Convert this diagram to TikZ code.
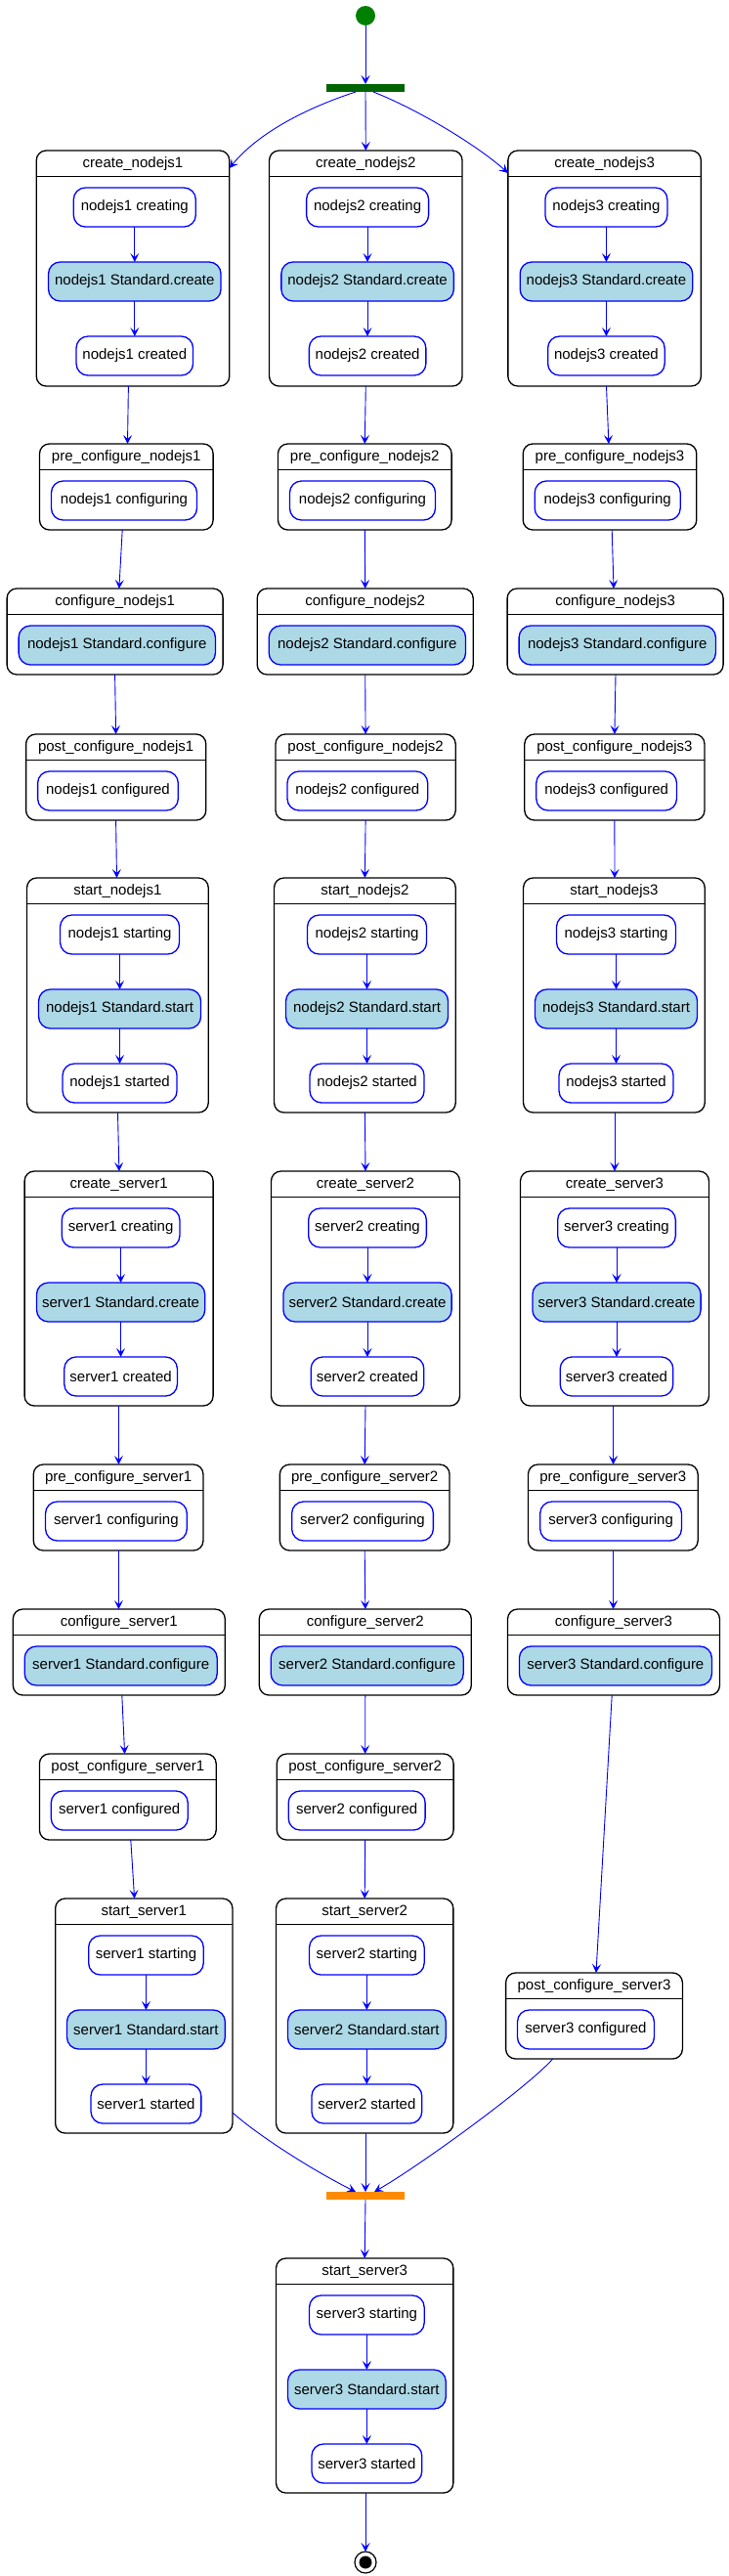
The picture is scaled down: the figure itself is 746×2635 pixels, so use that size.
\documentclass[tikz,border=0pt]{standalone}
\usepackage{fontspec}
\setmainfont{Liberation Sans}
\usetikzlibrary{arrows.meta}
\definecolor{ublue}{RGB}{0,0,255}
\definecolor{ulight}{RGB}{173,216,230}
\definecolor{ugreen}{RGB}{0,128,0}
\definecolor{udkgreen}{RGB}{0,100,0}
\definecolor{uorange}{RGB}{255,140,0}
\tikzset{
  clu/.style={draw=black, line width=1.3pt, rounded corners=10pt, fill=white, inner sep=0pt, outer sep=0pt},
  hdr/.style={draw=black, line width=1.3pt},
  ttl/.style={inner sep=0pt, font=\fontsize{15}{18}\selectfont, anchor=center},
  inn/.style={draw=ublue, line width=1.3pt, rounded corners=12pt, inner sep=0pt, outer sep=0pt,
    minimum height=40pt, font=\fontsize{15}{18}\selectfont, align=center},
  innw/.style={fill=white},
  innb/.style={fill=ulight},
  arr/.style={draw=ublue, line width=0.9pt, -{Stealth[length=9pt,width=9pt,inset=4pt]}},
  barnode/.style={inner sep=0pt, outer sep=0pt, minimum width=80pt, minimum height=8pt}
}
% #1 name, #2 cx, #3 top, #4 width, #5 height, #6 title
\newcommand{\Clu}[6]{%
  \node[clu, minimum width=#4pt, minimum height=#5pt] (#1) at (#2, #3+#5/2) {};
  \draw[hdr] ([yshift=-26.5pt]#1.north west) -- ([yshift=-26.5pt]#1.north east);
  \node[ttl] (#1t) at ([yshift=-13.5pt]#1.north) {#6};
}
% #1 name, #2 cx, #3 cy, #4 width, #5 style, #6 text
\newcommand{\Inn}[6]{\node[inn, #5, minimum width=#4pt] (#1) at (#2,#3) {#6};}
% #1 src, #2 dx, #3 tgt, #4 dx
\newcommand{\Arr}[4]{\draw[arr] ([xshift=#2pt]#1.south) -- ([xshift=#4pt]#3.north);}
\begin{document}
\begin{tikzpicture}[x=1pt,y=-1pt]
\useasboundingbox (0,0) rectangle (746,2635);
\fill[white] (0,0) rectangle (746,2635);

% start / fork bar
\node[circle, fill=ugreen, minimum size=20pt, inner sep=0pt, outer sep=0pt] (st) at (374,16) {};
\node[barnode, fill=udkgreen] (gb) at (374,90) {};
\draw[arr] (st) -- (gb);

% Row A: create_nodejs
\foreach \i/\cx in {1/136, 2/374.3, 3/618.6} {
  \Clu{cn\i}{\cx}{154}{197.5}{241}{create\_nodejs\i}
  \Inn{cn\i a}{\cx+1.8}{212}{125}{innw}{nodejs\i\ creating}
  \Inn{cn\i b}{\cx+1.8}{288}{176.5}{innb}{nodejs\i\ Standard.create}
  \Inn{cn\i c}{\cx+1.8}{364}{119.5}{innw}{nodejs\i\ created}
  \draw[arr] (cn\i a) -- (cn\i b);
  \draw[arr] (cn\i b) -- (cn\i c);
}
% Row B: pre_configure_nodejs
\foreach \i/\cx in {1/129.3, 2/373.3, 3/624} {
  \Clu{pc\i}{\cx}{454}{177.6}{88}{pre\_configure\_nodejs\i}
  \Inn{pc\i a}{\cx-2.3}{512}{149}{innw}{nodejs\i\ configuring}
}
% Row C: configure_nodejs
\foreach \i/\cx in {1/117.6, 2/373.7, 3/629.6} {
  \Clu{cf\i}{\cx}{602}{221}{88}{configure\_nodejs\i}
  \Inn{cf\i a}{\cx+2.15}{660}{201.3}{innb}{nodejs\i\ Standard.configure}
}
% Row D: post_configure_nodejs
\foreach \i/\cx in {1/118.7, 2/374.1, 3/628.9} {
  \Clu{po\i}{\cx}{751}{184.2}{88}{post\_configure\_nodejs\i}
  \Inn{po\i a}{\cx-8.25}{809}{143.7}{innw}{nodejs\i\ configured}
}
% Row E: start_nodejs
\foreach \i/\cx in {1/120.4, 2/373.4, 3/628.4} {
  \Clu{sn\i}{\cx}{898}{185.7}{240}{start\_nodejs\i}
  \Inn{sn\i a}{\cx+2.15}{956}{122}{innw}{nodejs\i\ starting}
  \Inn{sn\i b}{\cx+2.15}{1032}{166}{innb}{nodejs\i\ Standard.start}
  \Inn{sn\i c}{\cx+2.15}{1108}{117}{innw}{nodejs\i\ started}
  \draw[arr] (sn\i a) -- (sn\i b);
  \draw[arr] (sn\i b) -- (sn\i c);
}
% Row F: create_server
\foreach \i/\cx in {1/121.6, 2/374, 3/629} {
  \Clu{cs\i}{\cx}{1198}{193}{240}{create\_server\i}
  \Inn{cs\i a}{\cx+2}{1256}{120.7}{innw}{server\i\ creating}
  \Inn{cs\i b}{\cx+2}{1332}{172.2}{innb}{server\i\ Standard.create}
  \Inn{cs\i c}{\cx+2}{1408}{115.6}{innw}{server\i\ created}
  \draw[arr] (cs\i a) -- (cs\i b);
  \draw[arr] (cs\i b) -- (cs\i c);
}
% Row G: pre_configure_server
\foreach \i/\cx in {1/121.1, 2/373.2, 3/627.3} {
  \Clu{ps\i}{\cx}{1498}{173.7}{88}{pre\_configure\_server\i}
  \Inn{ps\i a}{\cx-2.2}{1556}{144.7}{innw}{server\i\ configuring}
}
% Row H: configure_server
\foreach \i/\cx in {1/121.8, 2/373.8, 3/628} {
  \Clu{fs\i}{\cx}{1646}{217}{88}{configure\_server\i}
  \Inn{fs\i a}{\cx+1.9}{1704}{197}{innb}{server\i\ Standard.configure}
}
% Row I: post_configure_server
\foreach \i/\cx/\top in {1/130.8/1794, 2/373.7/1794, 3/608/2018} {
  \Clu{qs\i}{\cx}{\top}{180.8}{88}{post\_configure\_server\i}
  \Inn{qs\i a}{\cx-8.55}{\top+58}{139.9}{innw}{server\i\ configured}
}
% Row J: start_server
\foreach \i/\cx/\top in {1/147.3/1942, 2/373.2/1942, 3/373.2/2310} {
  \Clu{ss\i}{\cx}{\top}{181.3}{240}{start\_server\i}
  \Inn{ss\i a}{\cx+2.15}{\top+58}{117.6}{innw}{server\i\ starting}
  \Inn{ss\i b}{\cx+2.15}{\top+134}{161.8}{innb}{server\i\ Standard.start}
  \Inn{ss\i c}{\cx+2.15}{\top+210}{112.8}{innw}{server\i\ started}
  \draw[arr] (ss\i a) -- (ss\i b);
  \draw[arr] (ss\i b) -- (ss\i c);
}

% join bar and end
\node[barnode, fill=uorange] (ob) at (374,2246) {};
\node[circle, draw=black, line width=1.2pt, fill=white, minimum size=22pt, inner sep=0pt, outer sep=0pt] (en) at (374,2621) {};
\fill[black] (en.center) circle (6.5pt);

% fork arrows
\draw[arr] ([xshift=-10pt]gb.south) .. controls (315,110) and (265,135) .. ([yshift=-18pt]cn1.north east);
\Arr{gb}{0}{cn2}{0}
\draw[arr] ([xshift=8pt]gb.south) .. controls (430,113) and (490,150) .. ([yshift=-23pt]cn3.north west);

% column 1
\Arr{cn1}{-4.6}{pc1}{1.2}
\Arr{pc1}{-4.1}{cf1}{4.3}
\Arr{cf1}{0}{po1}{-0.1}
\Arr{po1}{-0.1}{sn1}{-0.9}
\Arr{sn1}{0.1}{cs1}{0.3}
\Arr{cs1}{-0.2}{ps1}{0.3}
\Arr{ps1}{0.3}{fs1}{-0.4}
\Arr{fs1}{3}{qs1}{-3.2}
\Arr{qs1}{3}{ss1}{-9.7}
% column 2
\Arr{cn2}{0}{pc2}{0}
\Arr{pc2}{0}{cf2}{0}
\Arr{cf2}{0}{po2}{0}
\Arr{po2}{0}{sn2}{0}
\Arr{sn2}{0}{cs2}{0}
\Arr{cs2}{0}{ps2}{0}
\Arr{ps2}{0}{fs2}{0}
\Arr{fs2}{0}{qs2}{0}
\Arr{qs2}{0}{ss2}{0}
% column 3
\Arr{cn3}{1.9}{pc3}{-1.1}
\Arr{pc3}{2.2}{cf3}{-1.6}
\Arr{cf3}{0.4}{po3}{0}
\Arr{po3}{0}{sn3}{0.6}
\Arr{sn3}{0.6}{cs3}{0}
\Arr{cs3}{-1.4}{ps3}{0.3}
\Arr{ps3}{0.3}{fs3}{-0.4}
\Arr{fs3}{-1.8}{qs3}{2}

% join arrows
\draw[arr] ([yshift=-219pt]ss1.north east) .. controls (265,2185) and (320,2220) .. ([xshift=-10pt]ob.north);
\Arr{ss2}{0.8}{ob}{0}
\draw[arr] ([xshift=-42.3pt]qs3.south) .. controls (540,2135) and (430,2215) .. ([xshift=9pt]ob.north);
\Arr{ob}{0}{ss3}{0}
\Arr{ss3}{0.8}{en}{0}
\end{tikzpicture}
\end{document}
